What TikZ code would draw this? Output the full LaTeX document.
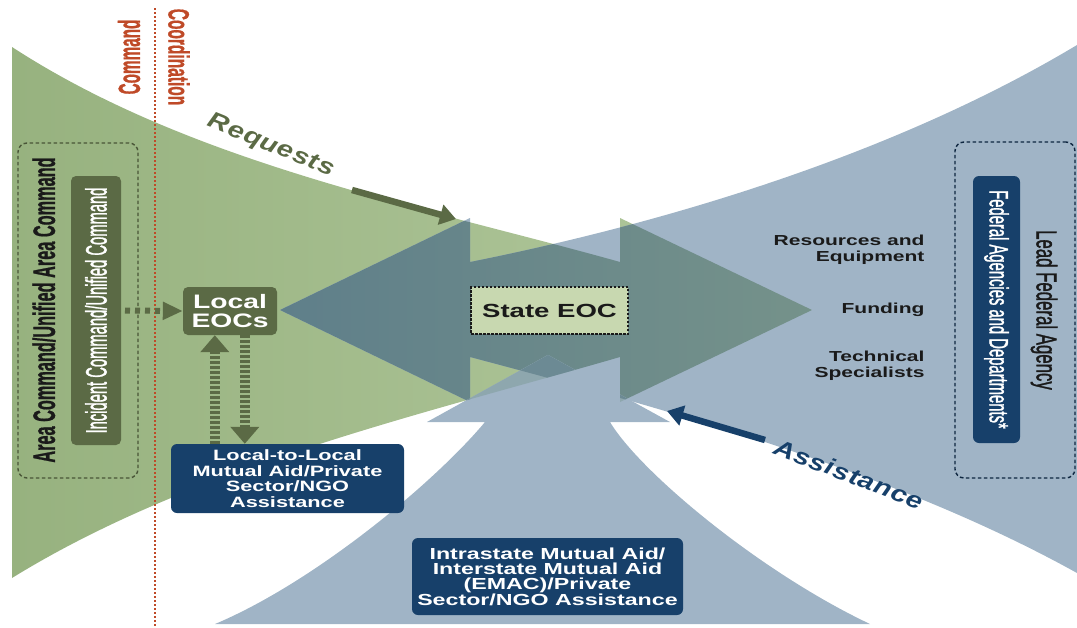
\documentclass[tikz,border=0pt]{standalone}
\usepackage{fontspec}
\setmainfont{Liberation Sans}
\newfontfamily\widefont{Liberation Sans}[FakeStretch=1.45]
\newfontfamily\slantfont{Liberation Sans}[FakeStretch=1.25,LetterSpace=3]
\newfontfamily\tallfont{Liberation Sans}[FakeBold=1.6]
\newfontfamily\tallbold{Liberation Sans}[FakeBold=1.0]
\usetikzlibrary{arrows.meta,calc}

\definecolor{greenA}{HTML}{97B27F}
\definecolor{greenB}{HTML}{B3C99E}
\definecolor{steel}{HTML}{A0B4C6}
\definecolor{tealL}{HTML}{5F7F8A}
\definecolor{tealR}{HTML}{75928A}
\definecolor{mixgb}{HTML}{8EA7AE}
\definecolor{mixtb}{HTML}{6C8A94}
\definecolor{olive}{HTML}{5B6A45}
\definecolor{navy}{HTML}{17406A}
\definecolor{rust}{HTML}{BF4A28}
\definecolor{paleg}{HTML}{C8D8B0}
\definecolor{ink}{HTML}{1A1A1A}

% the three funnel shapes
\def\greenpath{(12,47) .. controls (192,164) and (420,206) .. (620,262) -- (620,218) -- (812,310) -- (620,402) -- (620,357) .. controls (420,415) and (192,467) .. (12,578) -- cycle}
\def\bluepath{(1077,45) .. controls (897,153) and (670,222) .. (470,262) -- (470,218) -- (280,310) -- (470,402) -- (470,357) .. controls (670,410) and (897,473) .. (1077,573) -- cycle}
\def\bottompath{(548,355) -- (670,422) -- (610,422) .. controls (640,472) and (760,572) .. (870,624) -- (215,624) .. controls (315,582) and (435,482) .. (485,422) -- (427,422) -- cycle}

\begin{document}
\begin{tikzpicture}[x=1pt,y=-1pt,
  olivebox/.style={fill=olive,rounded corners=5pt,text=white,inner sep=0pt,align=center},
  navybox/.style={fill=navy,rounded corners=6pt,text=white,inner sep=0pt,align=center},
  groupbox/.style={draw,line width=1.4pt,dash pattern=on 3.5pt off 2.5pt,rounded corners=9pt,inner sep=0pt},
  sidelabel/.style={text=ink,anchor=east,align=right,font=\widefont\bfseries\fontsize{14.5}{16}\selectfont},
  dotarrow/.style={olive,line width=10pt,dash pattern=on 3pt off 2pt,-{Triangle[length=17pt,width=28pt]}},
  flowarrow/.style={line width=6.5pt,-{Triangle[length=16pt,width=20pt]}}]
\useasboundingbox (0,0) rectangle (1077,627);

% background shapes
\shade[left color=greenA,right color=greenB] \greenpath;
\fill[steel] \bluepath;
\begin{scope}
  \clip \greenpath;
  \clip \bluepath;
  \shade[left color=tealL,right color=tealR] (280,200) rectangle (812,420);
\end{scope}
\fill[steel] \bottompath;
\begin{scope}
  \clip \bottompath;
  \clip \greenpath;
  \fill[mixgb] (400,340) rectangle (700,440);
  \clip \bluepath;
  \fill[mixtb] (400,340) rectangle (700,440);
\end{scope}

% command / coordination divide
\draw[rust,line width=2pt,dash pattern=on 2pt off 2pt] (155,8) -- (155,627);
\node[text=rust,rotate=90] (cmd) at (129,57)
  {\scalebox{1}[2.0]{\tallbold\bfseries\fontsize{15.3}{16}\selectfont Command}};
\node[text=rust,rotate=-90] (coord) at (179,57)
  {\scalebox{1}[1.9]{\tallbold\bfseries\fontsize{15.5}{16}\selectfont Coordination}};

% left group
\node[groupbox,draw=olive!80!black,minimum width=120pt,minimum height=335pt] (area) at (78,310.5) {};
\node[text=ink,rotate=90] (arealbl) at (44,310)
  {\scalebox{1}[1.9]{\tallbold\bfseries\fontsize{16.3}{17}\selectfont Area Command/Unified Area Command}};
\node[olivebox,rotate=90,minimum width=269pt,minimum height=50pt] (ic) at (96,310.5)
  {\scalebox{1}[2.0]{\tallfont\fontsize{14.75}{16}\selectfont Incident Command/Unified Command}};

\node[olivebox,minimum width=94pt,minimum height=48pt,font=\widefont\bfseries\fontsize{19.5}{19}\selectfont] (local) at (230,311) {Local\\EOCs};

\node[navybox,minimum width=233pt,minimum height=69pt,font=\widefont\bfseries\fontsize{15}{15.7}\selectfont] (ltl) at (287.5,478.5)
  {Local-to-Local\\Mutual Aid/Private\\Sector/NGO\\Assistance};

\node[navybox,minimum width=271pt,minimum height=77pt,font=\widefont\bfseries\fontsize{16}{15.4}\selectfont] (intra) at (547.5,576.5)
  {Intrastate Mutual Aid/\\Interstate Mutual Aid\\(EMAC)/Private\\Sector/NGO Assistance};

\node[draw=ink,line width=1.8pt,dash pattern=on 2.5pt off 1.5pt,fill=paleg,minimum width=157pt,minimum height=47pt,inner sep=0pt,
  font=\widefont\bfseries\fontsize{19}{20}\selectfont,text=ink] (state) at (549.5,310.5) {State EOC};

% right group
\node[sidelabel] (res) at (928,250) {Resources and\\Equipment};
\node[sidelabel] (fund) at (928,310) {Funding};
\node[sidelabel] (tech) at (928,366) {Technical\\Specialists};

\node[groupbox,draw=navy!60!black,minimum width=120pt,minimum height=336pt] (lead) at (1015,310) {};
\node[text=ink,rotate=-90] (leadlbl) at (1044,310)
  {\scalebox{1}[1.7]{\tallfont\fontsize{16.8}{17}\selectfont Lead Federal Agency}};
\node[navybox,rotate=-90,minimum width=267pt,minimum height=47pt] (fed) at (996.5,309.5)
  {\scalebox{1}[1.8]{\tallfont\fontsize{14.8}{16}\selectfont Federal Agencies and Departments*}};

% flow labels
\node[text=olive,rotate=-22] (req) at (271,146)
  {\slantfont\bfseries\itshape\fontsize{23}{25}\selectfont Requests};
\coordinate (reqA) at (352,190);
\coordinate (reqB) at (456,219);
\draw[flowarrow,olive] (reqA) -- (reqB);

\node[text=navy,rotate=-21] (assist) at (849,474)
  {\slantfont\bfseries\itshape\fontsize{23}{25}\selectfont Assistance};
\coordinate (asA) at (765,440);
\coordinate (asB) at (667,411);
\draw[flowarrow,navy] (asA) -- (asB);

% connectors
\draw[olive,line width=6pt,dash pattern=on 5pt off 5pt,-{Triangle[length=20pt,width=17pt]}]
  ($(ic.center)+(29,0)$) -- (local.west);
\draw[dotarrow] ([xshift=32pt]local.south west |- ltl.north) -- ([xshift=32pt]local.south west);
\draw[dotarrow] ([xshift=62pt]local.south west) -- ([xshift=62pt]local.south west |- ltl.north);
\end{tikzpicture}
\end{document}
